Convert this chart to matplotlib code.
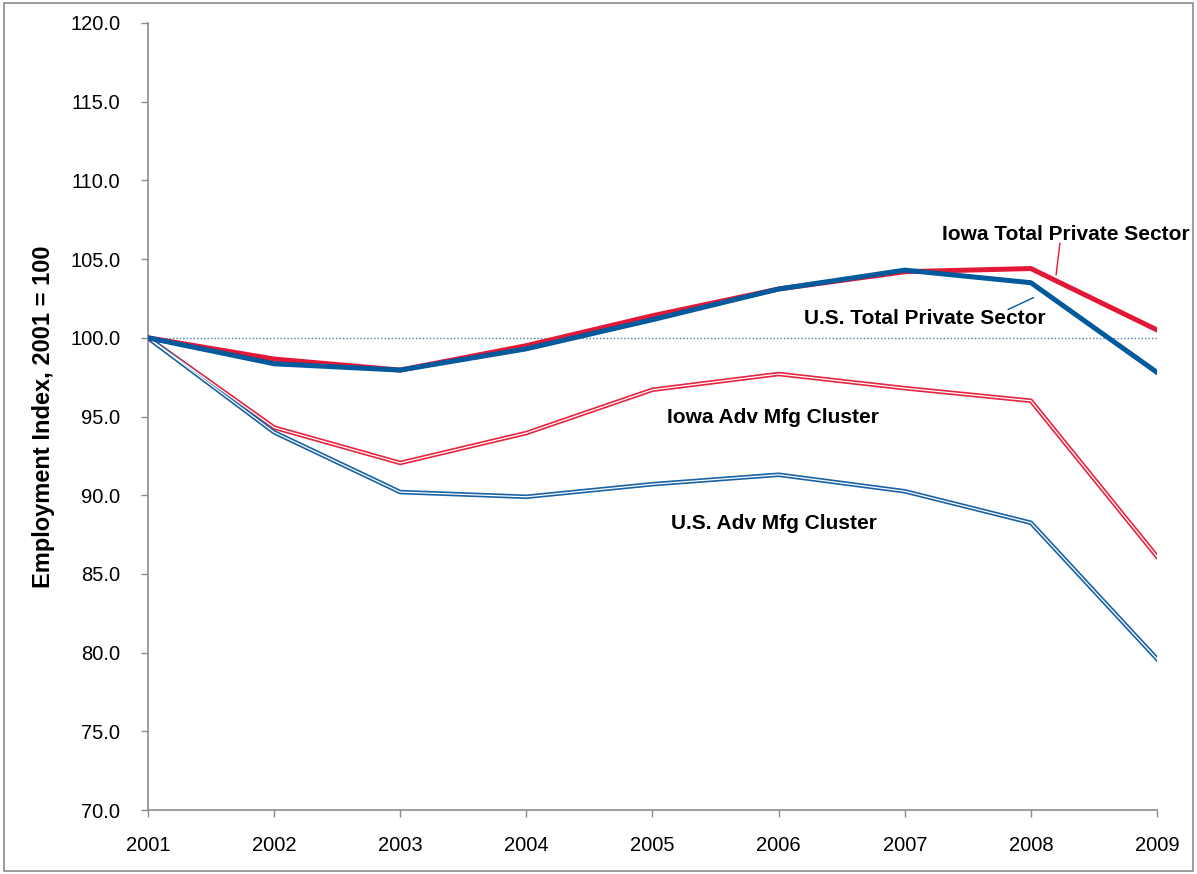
import matplotlib
matplotlib.use("Agg")
import matplotlib.pyplot as plt
from matplotlib.patches import Rectangle

# ── data ──
years = [2001, 2002, 2003, 2004, 2005, 2006, 2007, 2008, 2009]
iowa_total = [100.0, 98.65, 97.95, 99.5, 101.4, 103.1, 104.2, 104.4, 100.5]
us_total = [100.0, 98.35, 97.95, 99.3, 101.15, 103.1, 104.3, 103.5, 97.8]
iowa_adv = [100.0, 94.3, 92.05, 93.95, 96.7, 97.7, 96.8, 96.0, 86.1]
us_adv = [100.0, 94.0, 90.2, 89.9, 90.7, 91.3, 90.25, 88.25, 79.6]

RED = "#E31837"
BLUE = "#005A9C"
RED_ADV = "#E8243F"
BLUE_ADV = "#1A62A5"

plt.rcParams["font.family"] = ["Liberation Sans", "DejaVu Sans"]

fig = plt.figure(figsize=(11.97, 8.74), dpi=100)
ax = fig.add_axes([0.1236, 0.0732, 0.9666 - 0.1236, 0.9737 - 0.0732])

# outer frame
fig.patches.append(Rectangle((0.003, 0.004), 0.994, 0.992, transform=fig.transFigure,
                             fill=False, edgecolor="#8c8c8c", linewidth=1.2))

# reference line at 100
ax.plot([years[0], years[-1]], [100, 100], color="#4a7fb0", lw=1.0, ls=(0, (1, 1.5)), zorder=1)

# double lines for the clusters
ax.plot(years, iowa_adv, color=RED_ADV, lw=3.3, zorder=2)
ax.plot(years, iowa_adv, color="white", lw=0.9, zorder=3)
ax.plot(years, us_adv, color=BLUE_ADV, lw=3.3, zorder=2)
ax.plot(years, us_adv, color="white", lw=0.9, zorder=3)

# totals
ax.plot(years, iowa_total, color=RED, lw=3.6, zorder=4)
ax.plot(years, us_total, color=BLUE, lw=3.6, zorder=5)

ax.set_xlim(2001, 2009)
ax.set_ylim(70, 120)
ax.set_xticks(years)
ax.set_yticks(range(70, 121, 5))
ax.set_yticklabels([f"{v:.1f}" for v in range(70, 121, 5)])

for s in ["top", "right"]:
    ax.spines[s].set_visible(False)
for s in ["left", "bottom"]:
    ax.spines[s].set_color("#8c8c8c")
    ax.spines[s].set_linewidth(1.2)
ax.tick_params(axis="both", direction="out", length=5, width=1.0, color="#8c8c8c",
               labelsize=14.5, labelcolor="black")
ax.tick_params(axis="x", pad=14)
ax.tick_params(axis="y", pad=15)

ax.set_ylabel("Employment Index, 2001 = 100", fontsize=17, fontweight="bold", labelpad=11)

# labels
lbl = dict(fontsize=15, fontweight="bold", ha="center", va="center", color="black")
ax.text(2008.275, 106.55, "Iowa Total Private Sector", **lbl)
ax.text(2007.16, 101.2, "U.S. Total Private Sector", **lbl)
ax.text(2005.955, 94.95, "Iowa Adv Mfg Cluster", **lbl)
ax.text(2005.96, 88.2, "U.S. Adv Mfg Cluster", **lbl)

# leader lines
ax.plot([2008.23, 2008.20], [106.0, 104.0], color=RED, lw=1.0)
ax.plot([2007.82, 2008.02], [101.8, 102.55], color=BLUE, lw=1.0)

fig.savefig("out.png", dpi=100, facecolor="white")
